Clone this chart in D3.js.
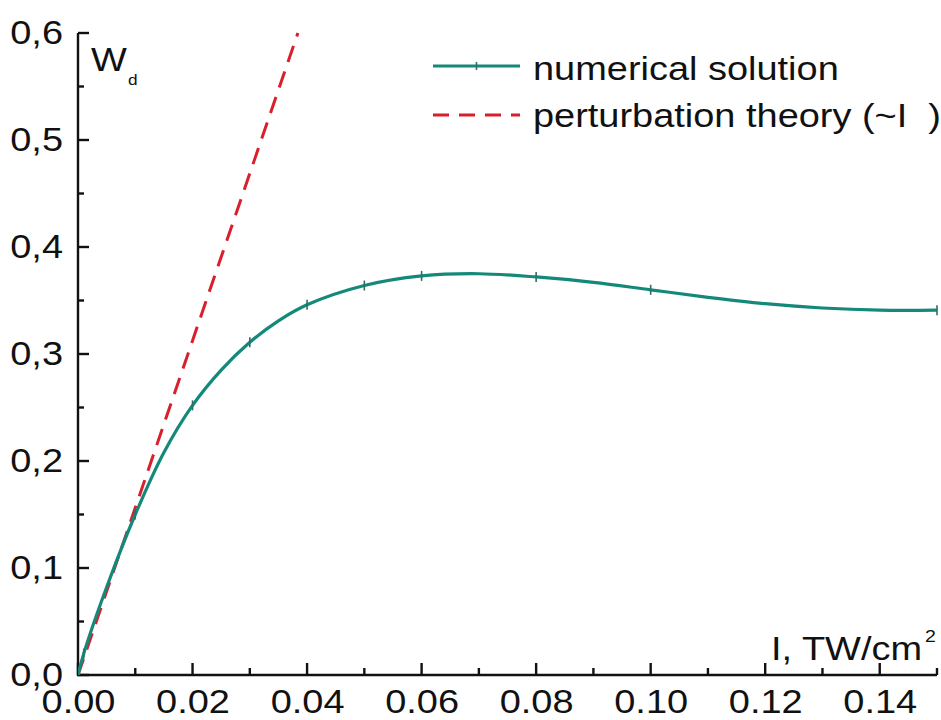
<!DOCTYPE html>
<html>
<head>
<meta charset="utf-8">
<script src="https://cdn.jsdelivr.net/npm/d3@7/dist/d3.min.js"></script>
<style>
  html, body { margin: 0; padding: 0; background: #fff; }
  svg { display: block; font-family: "Liberation Sans", Arial, sans-serif; }
</style>
</head>
<body>
<svg id="chart" width="941" height="720"></svg>
<script>
// Intensity I (TW/cm^2) and detachment probability W_d from the numerical solution
const intensity = [0, 0.001, 0.005, 0.01, 0.015, 0.02, 0.025, 0.03, 0.035, 0.04, 0.05, 0.06, 0.07, 0.08, 0.09, 0.10, 0.11, 0.12, 0.13, 0.14, 0.15];
const numerical = [0, 0.020, 0.082, 0.150, 0.208, 0.252, 0.285, 0.311, 0.331, 0.346, 0.364, 0.373, 0.375, 0.372, 0.367, 0.360, 0.353, 0.347, 0.343, 0.341, 0.341];
// Computed points carrying a marker on the curve
const markerIntensity = [0.001, 0.01, 0.02, 0.03, 0.04, 0.05, 0.06, 0.08, 0.10, 0.15];

// Perturbation theory, linear in I
const perturbIntensity = [0, 0.0384];
const perturbation = [0, 0.6];

const xTicks = [0, 0.02, 0.04, 0.06, 0.08, 0.10, 0.12, 0.14];
const xMinorTicks = [0.01, 0.03, 0.05, 0.07, 0.09, 0.11, 0.13, 0.15];
const yTicks = [0, 0.1, 0.2, 0.3, 0.4, 0.5, 0.6];
const yMinorTicks = [0.05, 0.15, 0.25, 0.35, 0.45, 0.55];

const legendLabels = ["numerical solution", "perturbation theory (~I  )"];

const teal = "#14897a";
const red = "#d8202c";
const ink = "#111";
const fontSize = 33;
const stretch = 1.15;   // glyphs are drawn slightly wide

const svg = d3.select("#chart");
const plotLeft = 78, plotRight = 937, plotTop = 33, plotBottom = 675;

const x = d3.scaleLinear().domain([0, 0.15]).range([plotLeft, plotRight]);
const y = d3.scaleLinear().domain([0, 0.6]).range([plotBottom, plotTop]);

svg.append("defs").append("clipPath").attr("id", "plot-area")
  .append("rect").attr("x", plotLeft).attr("y", plotTop - 2)
  .attr("width", plotRight - plotLeft + 2).attr("height", plotBottom - plotTop + 2);

// Wide text anchored at (px, py)
function wideText(parent, px, py, str, size, anchor) {
  return parent.append("text")
    .attr("transform", `translate(${px},${py}) scale(${stretch},1)`)
    .attr("font-size", size).attr("fill", ink)
    .attr("text-anchor", anchor || "start")
    .style("white-space", "pre")
    .text(str);
}

// Axis lines and tick marks pointing into the plot
const tickG = svg.append("g").attr("stroke", ink).attr("stroke-width", 2.4);
tickG.append("line").attr("x1", plotLeft).attr("x2", plotLeft).attr("y1", plotTop).attr("y2", plotBottom + 1);
tickG.append("line").attr("x1", plotLeft - 1).attr("x2", plotRight).attr("y1", plotBottom).attr("y2", plotBottom);
tickG.selectAll("line.xt").data(xTicks).enter().append("line").attr("class", "xt")
  .attr("x1", d => x(d)).attr("x2", d => x(d))
  .attr("y1", plotBottom).attr("y2", plotBottom - 12);
tickG.selectAll("line.xm").data(xMinorTicks).enter().append("line").attr("class", "xm")
  .attr("x1", d => x(d)).attr("x2", d => x(d))
  .attr("y1", plotBottom).attr("y2", plotBottom - 7);
tickG.selectAll("line.yt").data(yTicks).enter().append("line").attr("class", "yt")
  .attr("y1", d => y(d)).attr("y2", d => y(d))
  .attr("x1", plotLeft).attr("x2", plotLeft + 11);
tickG.selectAll("line.ym").data(yMinorTicks).enter().append("line").attr("class", "ym")
  .attr("y1", d => y(d)).attr("y2", d => y(d))
  .attr("x1", plotLeft).attr("x2", plotLeft + 6);

// Tick labels
const xAxis = svg.append("g").attr("transform", `translate(0,${plotBottom})`)
  .call(d3.axisBottom(x).tickValues(xTicks).tickSize(0)
    .tickPadding(15).tickFormat(d3.format(".2f")));
const yAxis = svg.append("g").attr("transform", `translate(${plotLeft},0)`)
  .call(d3.axisLeft(y).tickValues(yTicks).tickSize(0)
    .tickPadding(15).tickFormat(d => d.toFixed(1).replace(".", ",")));
xAxis.select(".domain").remove();
yAxis.select(".domain").remove();

xAxis.selectAll(".tick text")
  .attr("font-size", fontSize).attr("fill", ink)
  .attr("font-family", "Liberation Sans, Arial, sans-serif")
  .attr("transform", `scale(${stretch},1)`);
yAxis.selectAll(".tick text")
  .attr("font-size", fontSize).attr("fill", ink)
  .attr("font-family", "Liberation Sans, Arial, sans-serif")
  .attr("x", -15 / stretch)
  .attr("transform", `scale(${stretch},1)`);

// Axis titles
const wTitle = svg.append("text")
  .attr("transform", `translate(91,71) scale(${stretch},1)`)
  .attr("font-size", fontSize).attr("fill", ink);
wTitle.append("tspan").text("W");
wTitle.append("tspan").attr("font-size", 15).attr("dx", 1).attr("dy", 14).text("d");

wideText(svg, 922, 660, "I, TW/cm", fontSize, "end");
wideText(svg, 925, 642, "2", 17, "start");

// Curves
const line = d3.line().x(d => x(d[0])).y(d => y(d[1]));
const plot = svg.append("g").attr("clip-path", "url(#plot-area)");

plot.append("path")
  .datum(perturbIntensity.map((v, i) => [v, perturbation[i]]))
  .attr("d", line)
  .attr("fill", "none").attr("stroke", red).attr("stroke-width", 3)
  .attr("stroke-dasharray", "17,10");

plot.append("path")
  .datum(intensity.map((v, i) => [v, numerical[i]]))
  .attr("d", line.curve(d3.curveCatmullRom))
  .attr("fill", "none").attr("stroke", teal).attr("stroke-width", 3.2);

const markerPts = markerIntensity.map(v => [v, numerical[intensity.indexOf(v)]]);
plot.selectAll("line.mk").data(markerPts).enter().append("line").attr("class", "mk")
  .attr("x1", d => x(d[0])).attr("x2", d => x(d[0]))
  .attr("y1", d => y(d[1]) - 5).attr("y2", d => y(d[1]) + 5)
  .attr("stroke", "#2f6e66").attr("stroke-width", 1.6);

// Legend
const lx0 = 433, lx1 = 520, tx = 533;
const lg = svg.append("g");
lg.append("line").attr("x1", lx0).attr("x2", lx1).attr("y1", 66).attr("y2", 66)
  .attr("stroke", teal).attr("stroke-width", 3.2);
lg.append("line").attr("x1", (lx0 + lx1) / 2).attr("x2", (lx0 + lx1) / 2).attr("y1", 62).attr("y2", 70)
  .attr("stroke", "#2f6e66").attr("stroke-width", 1.6);
lg.append("line").attr("x1", lx0).attr("x2", lx1).attr("y1", 115).attr("y2", 115)
  .attr("stroke", red).attr("stroke-width", 3).attr("stroke-dasharray", "16,10");
wideText(lg, tx, 80, legendLabels[0], fontSize);
wideText(lg, tx, 127, legendLabels[1], fontSize);
</script>
</body>
</html>
